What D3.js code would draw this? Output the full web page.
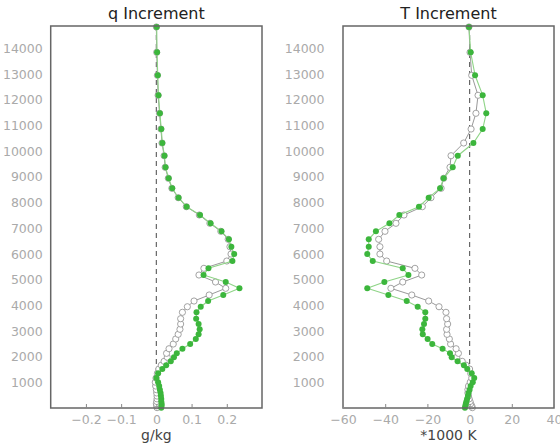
<!DOCTYPE html>
<html><head><meta charset="utf-8">
<script src="https://cdn.jsdelivr.net/npm/d3@7"></script>
<style>html,body{margin:0;padding:0;background:#fff;}svg{display:block;}</style>
</head><body>
<svg id="c" width="560" height="447"></svg>
<script>
const heights = [30,100,180,270,370,480,600,730,870,1020,1180,1364,1531,1680,1830,1990,2141,2320,2503,2700,2880,3075,3281,3487,3736,3953,4175,4409,4669,4914,5186,5446,5730,6002,6286,6574,6885,7196,7519,7842,8192,8557,8946,9373,9824,10318,10862,11473,12173,12950,13844,14830];
const qGreen = [0.014,0.015,0.015,0.014,0.014,0.013,0.012,0.010,0.008,0.005,0.000,0.005,0.017,0.028,0.041,0.050,0.058,0.074,0.096,0.112,0.120,0.123,0.120,0.113,0.114,0.126,0.147,0.190,0.236,0.197,0.134,0.148,0.216,0.221,0.213,0.206,0.185,0.154,0.124,0.086,0.063,0.045,0.035,0.026,0.023,0.017,0.014,0.010,0.006,0.004,0.002,0.001];
const qGray = [0.002,0.001,0.000,0.001,0.002,0.002,0.001,0.000,-0.002,-0.003,-0.001,0.003,0.007,0.014,0.022,0.031,0.029,0.036,0.048,0.055,0.062,0.067,0.069,0.069,0.074,0.088,0.107,0.150,0.197,0.168,0.121,0.135,0.200,0.212,0.209,0.204,0.183,0.152,0.122,0.085,0.062,0.044,0.034,0.025,0.022,0.016,0.013,0.009,0.005,0.003,0.001,0.000];
const tGreen = [-2.2,-2.0,-1.8,-1.5,-1.2,-0.8,-0.5,0.0,0.5,1.5,2.2,1.0,-1.1,-2.7,-5.7,-8.5,-9.3,-12.8,-17.7,-19.9,-22.2,-22.4,-21.6,-21.0,-21.0,-24.6,-29.8,-38.5,-48.5,-40.4,-29.0,-31.7,-45.9,-48.5,-47.8,-47.8,-44.4,-38.0,-33.3,-24.0,-19.4,-14.0,-12.3,-8.0,-5.6,1.8,6.2,7.9,6.2,2.6,0.5,-0.3];
const tGray = [1.3,1.0,0.5,0.2,-0.2,-0.5,-0.8,-0.8,-0.5,0.3,1.0,0.5,0.0,-1.7,-3.5,-6.1,-5.3,-6.4,-9.0,-9.6,-10.7,-10.9,-10.4,-10.9,-11.2,-14.5,-19.4,-27.4,-37.3,-31.7,-22.7,-25.9,-39.3,-42.5,-42.5,-43.1,-40.1,-34.9,-31.1,-22.4,-18.3,-13.5,-12.3,-9.3,-8.8,-2.8,0.7,3.0,4.0,1.0,0.2,-0.3];
const yTicks = [1000,2000,3000,4000,5000,6000,7000,8000,9000,10000,11000,12000,13000,14000];
const qTicks = [-0.2,-0.1,0,0.1,0.2];
const tTicks = [-60,-40,-20,0,20,40];
const titles = ["q Increment","T Increment"];
const units = ["g/kg","*1000 K"];

const svg = d3.select("#c");
const font = "DejaVu Sans, sans-serif";
const y = d3.scaleLinear().domain([16,14867]).range([408,26]);

const panels = [
  {x0:50.7, x1:262, dom:[-0.3,0.3], ticks:qTicks, fmt:d=>d===0?"0":d3.format(".1f")(d), green:qGreen, gray:qGray, title:titles[0], unit:units[0], labGap:8},
  {x0:343, x1:554, dom:[-60,40], ticks:tTicks, fmt:d3.format("d"), green:tGreen, gray:tGray, title:titles[1], unit:units[1], labGap:18.5}
];

panels.forEach(p=>{
  const x = d3.scaleLinear().domain(p.dom).range([p.x0,p.x1]);
  const g = svg.append("g");
  g.append("line").attr("x1",x(0)).attr("x2",x(0)).attr("y1",26).attr("y2",408)
    .attr("stroke","#666").attr("stroke-width",1.2).attr("stroke-dasharray","5,4");
  const gl = d3.line().x(d=>x(d[0])).y(d=>y(d[1]));
  const grayPts = p.gray.map((v,i)=>[v,heights[i]]);
  const greenPts = p.green.map((v,i)=>[v,heights[i]]);
  g.append("path").datum(grayPts).attr("d",gl).attr("fill","none").attr("stroke","#999").attr("stroke-width",1);
  g.selectAll(".gc").data(grayPts).enter().append("circle")
    .attr("cx",d=>x(d[0])).attr("cy",d=>y(d[1])).attr("r",3.1)
    .attr("fill","#fff").attr("stroke","#999").attr("stroke-width",0.9);
  g.append("path").datum(greenPts).attr("d",gl).attr("fill","none").attr("stroke","#8fd487").attr("stroke-width",1.1);
  g.selectAll(".gg").data(greenPts).enter().append("circle")
    .attr("cx",d=>x(d[0])).attr("cy",d=>y(d[1])).attr("r",3)
    .attr("fill","#3cb63c");
  g.append("rect").attr("x",p.x0).attr("y",26).attr("width",p.x1-p.x0).attr("height",382)
    .attr("fill","none").attr("stroke","#666").attr("stroke-width",1.5);
  const xa = d3.axisBottom(x).tickValues(p.ticks).tickFormat(p.fmt).tickSize(-4).tickPadding(7);
  const xg = g.append("g").attr("transform","translate(0,408)").call(xa);
  xg.select(".domain").remove();
  xg.selectAll("line").attr("stroke","#888");
  xg.selectAll("text").attr("fill","#aaa").attr("font-family",font).attr("font-size",12.5);
  const ya = d3.axisLeft(y).tickValues(yTicks).tickFormat(d3.format("d")).tickSize(0).tickPadding(p.labGap);
  const yg = g.append("g").attr("transform",`translate(${p.x0},0)`).call(ya);
  yg.select(".domain").remove();
  yg.selectAll("text").attr("fill","#aaa").attr("font-family",font).attr("font-size",12.5);
  g.append("text").attr("x",(p.x0+p.x1)/2).attr("y",19).attr("text-anchor","middle")
    .attr("font-family",font).attr("font-size",16).attr("fill","#222").text(p.title);
  g.append("text").attr("x",(p.x0+p.x1)/2).attr("y",440).attr("text-anchor","middle")
    .attr("font-family",font).attr("font-size",14).attr("fill","#444").text(p.unit);
});
</script>
</body></html>
